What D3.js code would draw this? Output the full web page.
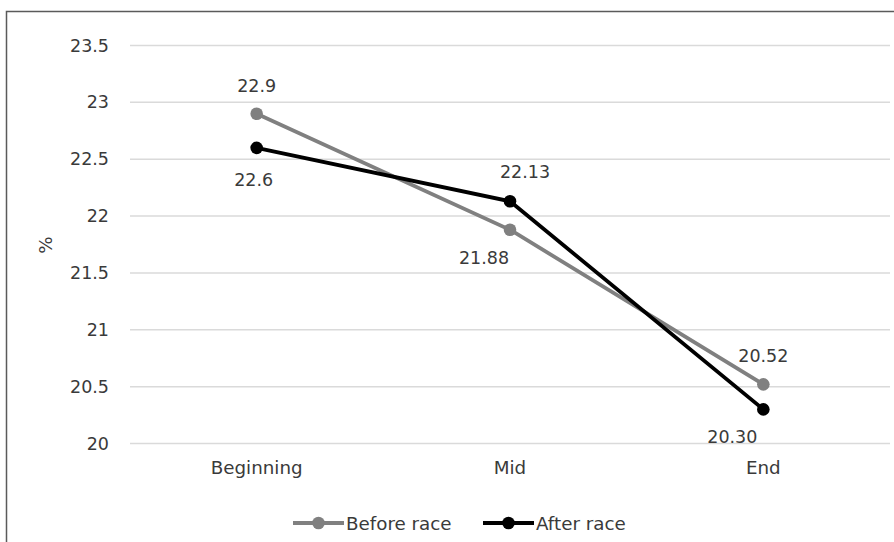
<!DOCTYPE html>
<html>
<head>
<meta charset="utf-8">
<script src="https://cdn.jsdelivr.net/npm/d3@7/dist/d3.min.js"></script>
<style>
  html, body { margin: 0; padding: 0; background: #fff; }
  svg { display: block; }
  text { font-family: "DejaVu Sans", sans-serif; fill: #3a3a3a; }
</style>
</head>
<body>
<svg id="chart" width="894" height="542"></svg>
<script>
// Percentages measured at three stages, before and after the race
const categories = ["Beginning", "Mid", "End"];
const beforeRace = [22.9, 21.88, 20.52];
const afterRace = [22.6, 22.13, 20.30];
const beforeLabels = ["22.9", "21.88", "20.52"];
const afterLabels = ["22.6", "22.13", "20.30"];
const yTicks = [20, 20.5, 21, 21.5, 22, 22.5, 23, 23.5];
const seriesNames = ["Before race", "After race"];

const NUM_SIZE = 17.5;
const WORD_SIZE = 18.3;

const svg = d3.select("#chart");
const W = 894, H = 542;

// outer frame (left and top edges visible)
svg.append("path")
  .attr("d", `M6.5,${H} V11.5 H${W}`)
  .attr("fill", "none")
  .attr("stroke", "#5a5a5a")
  .attr("stroke-width", 1.5);

const x = d3.scaleBand().domain(categories).range([130, 890]);
const y = d3.scaleLinear().domain([20, 23.5]).range([443.5, 45.5]);

// horizontal gridlines
svg.append("g")
  .selectAll("line")
  .data(yTicks)
  .join("line")
  .attr("x1", 130).attr("x2", 890)
  .attr("y1", d => y(d)).attr("y2", d => y(d))
  .attr("stroke", "#dadada")
  .attr("stroke-width", 1.5);

// y axis labels
const yAxis = d3.axisLeft(y).tickValues(yTicks).tickSize(0).tickPadding(0)
  .tickFormat(d => String(d));
const yg = svg.append("g").attr("transform", "translate(109,0)").call(yAxis);
yg.select(".domain").remove();
yg.selectAll("text").attr("font-size", NUM_SIZE).attr("fill", "#3a3a3a")
  .style("font-family", "DejaVu Sans, sans-serif");

// x axis labels
const xAxis = d3.axisBottom(x).tickSize(0).tickPadding(0);
const xg = svg.append("g").attr("transform", "translate(0,461)").call(xAxis);
xg.select(".domain").remove();
xg.selectAll("text").attr("font-size", WORD_SIZE).attr("fill", "#3a3a3a")
  .style("font-family", "DejaVu Sans, sans-serif");

// y axis title
svg.append("text")
  .attr("transform", "translate(52,245) rotate(-90)")
  .attr("text-anchor", "middle")
  .attr("font-size", WORD_SIZE)
  .text("%");

const cx = c => x(c) + x.bandwidth() / 2;
const line = d3.line().x((d, i) => cx(categories[i])).y(d => y(d));

const series = [
  { name: seriesNames[0], values: beforeRace, labels: beforeLabels, color: "#808080" },
  { name: seriesNames[1], values: afterRace, labels: afterLabels, color: "#000000" }
];

series.forEach(s => {
  svg.append("path")
    .datum(s.values)
    .attr("d", line)
    .attr("fill", "none")
    .attr("stroke", s.color)
    .attr("stroke-width", 3.8)
    .attr("stroke-linejoin", "round");
  svg.append("g")
    .selectAll("circle")
    .data(s.values)
    .join("circle")
    .attr("cx", (d, i) => cx(categories[i]))
    .attr("cy", d => y(d))
    .attr("r", 6.3)
    .attr("fill", s.color);
});

// data labels: offsets relative to each point
const beforeOffsets = [[0, -22], [-26, 34], [0, -22]];
const afterOffsets = [[-3, 38], [15, -23], [-31, 34]];
function drawLabels(s, offsets) {
  svg.append("g")
    .selectAll("text")
    .data(s.values)
    .join("text")
    .attr("x", (d, i) => cx(categories[i]) + offsets[i][0])
    .attr("y", (d, i) => y(d) + offsets[i][1])
    .attr("text-anchor", "middle")
    .attr("font-size", NUM_SIZE)
    .text((d, i) => s.labels[i]);
}
drawLabels(series[0], beforeOffsets);
drawLabels(series[1], afterOffsets);

// legend
const legendItems = [
  { s: series[0], x0: 293 },
  { s: series[1], x0: 483 }
];
legendItems.forEach(({ s, x0 }) => {
  const g = svg.append("g").attr("transform", `translate(${x0},523)`);
  g.append("line").attr("x1", 0).attr("x2", 51).attr("y1", 0).attr("y2", 0)
    .attr("stroke", s.color).attr("stroke-width", 3.8);
  g.append("circle").attr("cx", 25.5).attr("cy", 0).attr("r", 6.3).attr("fill", s.color);
  g.append("text").attr("x", 53).attr("y", 6.5).attr("font-size", WORD_SIZE).text(s.name);
});
</script>
</body>
</html>
